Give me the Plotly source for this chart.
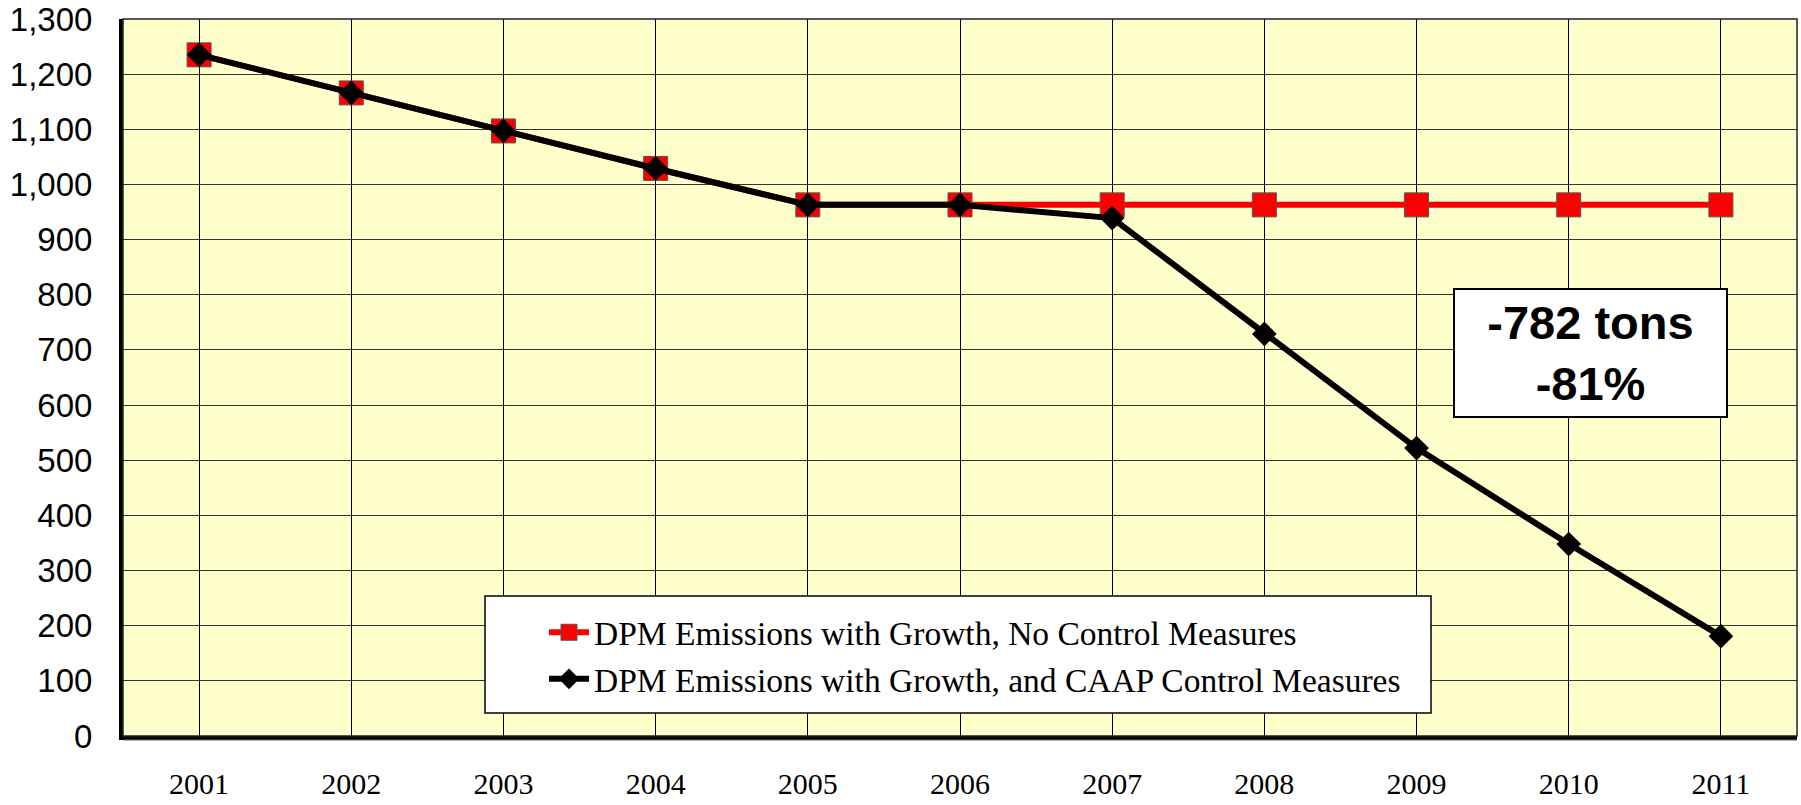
import plotly.graph_objects as go

years = ["2001", "2002", "2003", "2004", "2005", "2006", "2007", "2008", "2009", "2010", "2011"]
no_control = [1235, 1166, 1097, 1029, 963, 963, 963, 963, 963, 963, 963]
caap_control = [1235, 1166, 1097, 1029, 963, 963, 939, 729, 522, 348, 181]
y_ticks = list(range(0, 1301, 100))

name_red = "DPM Emissions with Growth, No Control Measures"
name_black = "DPM Emissions with Growth, and CAAP Control Measures"

fig = go.Figure()
fig.add_trace(go.Scatter(
    x=years, y=no_control, name=name_red, mode="lines+markers",
    line=dict(color="#FF0000", width=6),
    marker=dict(symbol="square", size=24, color="#FF0000",
                line=dict(color="#555555", width=1)),
))
fig.add_trace(go.Scatter(
    x=years, y=caap_control, name=name_black, mode="lines+markers",
    line=dict(color="#000000", width=6),
    marker=dict(symbol="diamond", size=19, color="#000000"),
))

L, R, T, B = 123, 4, 19, 69
W, H = 1801, 805
pw, ph = W - L - R, H - T - B

def px(x):
    return (x - L) / pw

def py(y):
    return (H - B - y) / ph

# legend box
fig.add_shape(type="rect", xref="paper", yref="paper",
              x0=px(485), x1=px(1431), y0=py(713), y1=py(596),
              fillcolor="white", line=dict(color="#000000", width=1.5),
              layer="above")
# plot border (top/right thin)
fig.add_shape(type="rect", xref="paper", yref="paper", x0=0, x1=1, y0=0, y1=1,
              line=dict(color="#222222", width=1.5), layer="above")
# under-shadow line of the bottom axis
fig.add_shape(type="line", xref="paper", yref="paper", x0=0, x1=1,
              y0=py(740), y1=py(740),
              line=dict(color="#666666", width=1), layer="above")

fig.add_annotation(
    xref="paper", yref="paper", x=px(1590), y=py(353),
    text="<b>-782 tons</b><br><b>-81%</b>", showarrow=False,
    font=dict(family="Liberation Sans, Arial", size=47, color="#000000"),
    bgcolor="white", bordercolor="#000000", borderwidth=2, borderpad=3,
    width=265, height=120, xanchor="center", yanchor="middle",
)

fig.update_layout(
    width=W, height=H,
    margin=dict(l=L, r=R, t=T, b=B, autoexpand=False),
    paper_bgcolor="white", plot_bgcolor="#FFFFCC",
    showlegend=True,
    legend=dict(
        x=px(544), y=py(604), xanchor="left", yanchor="top",
        bgcolor="rgba(0,0,0,0)", borderwidth=0,
        font=dict(family="Liberation Serif, Times New Roman", size=33.5, color="#000000"),
        tracegroupgap=0, itemwidth=40,
    ),
)
fig.update_xaxes(
    type="category", range=[-0.5, 10.5], automargin=False,
    showgrid=True, gridcolor="#000000", gridwidth=1,
    showline=True, linecolor="#000000", linewidth=4,
    ticks="", ticklabelstandoff=18,
    tickfont=dict(family="Liberation Serif, Times New Roman", size=30, color="#000000"),
    fixedrange=True,
)
fig.update_yaxes(
    range=[0, 1300], tickvals=y_ticks, tickformat=",d", automargin=False,
    showgrid=True, gridcolor="#333333", gridwidth=1,
    showline=True, linecolor="#000000", linewidth=4,
    zeroline=False,
    ticks="", ticklabelstandoff=20,
    tickfont=dict(family="Liberation Sans, Arial", size=33, color="#000000"),
    fixedrange=True,
)

fig.write_html("out.html", config={"displayModeBar": False},
               post_script="document.body.style.margin='0px';")
